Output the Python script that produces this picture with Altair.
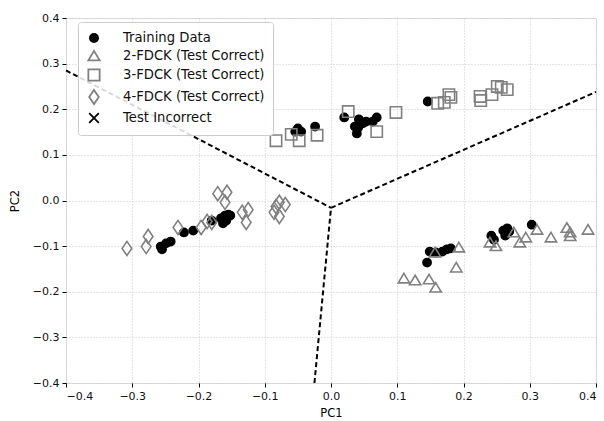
import altair as alt
import pandas as pd

# ---- data ----
train_x = [-0.257, -0.255, -0.249, -0.242, -0.222, -0.208, -0.180, -0.166, -0.160, -0.155, -0.163, -0.152, -0.158,
           -0.054, -0.050, -0.045, -0.024, 0.020, 0.036, 0.039, 0.041, 0.048, 0.053, 0.063, 0.069, 0.042, 0.146,
           0.145, 0.149, 0.158, 0.168, 0.175, 0.181, 0.242, 0.246, 0.260, 0.266, 0.269, 0.263, 0.303]
train_y = [-0.101, -0.107, -0.094, -0.090, -0.070, -0.066, -0.044, -0.039, -0.033, -0.031, -0.050, -0.033, -0.044,
           0.151, 0.158, 0.151, 0.162, 0.182, 0.162, 0.147, 0.160, 0.169, 0.173, 0.173, 0.182, 0.178, 0.217,
           -0.136, -0.112, -0.114, -0.112, -0.107, -0.105, -0.077, -0.086, -0.066, -0.061, -0.068, -0.077, -0.053]

fdck2_x = [0.110, 0.127, 0.148, 0.158, 0.157, 0.193, 0.189, 0.240, 0.249, 0.276, 0.285, 0.294, 0.311, 0.332,
           0.356, 0.361, 0.361, 0.388]
fdck2_y = [-0.171, -0.175, -0.173, -0.191, -0.114, -0.103, -0.147, -0.092, -0.100, -0.070, -0.092, -0.081,
           -0.064, -0.081, -0.060, -0.070, -0.078, -0.064]

fdck3_x = [-0.083, -0.060, -0.048, -0.021, 0.026, 0.069, 0.098, 0.161, 0.171, 0.178, 0.181, 0.225, 0.226,
           0.243, 0.251, 0.257, 0.266]
fdck3_y = [0.131, 0.145, 0.131, 0.143, 0.195, 0.151, 0.193, 0.213, 0.215, 0.232, 0.226, 0.228, 0.219,
           0.232, 0.250, 0.248, 0.243]

fdck4_x = [-0.308, -0.279, -0.276, -0.231, -0.196, -0.187, -0.180, -0.171, -0.157, -0.160, -0.134, -0.128,
           -0.125, -0.086, -0.078, -0.078, -0.069, -0.083]
fdck4_y = [-0.105, -0.101, -0.079, -0.059, -0.059, -0.046, -0.048, 0.015, 0.018, -0.004, -0.026, -0.048,
           -0.020, -0.026, -0.004, -0.035, -0.009, -0.013]

# decision boundary segments (from centre outwards)
bound_seg = ["a", "a", "b", "b", "c", "c"]
bound_x = [0.0, -0.4, 0.0, 0.4, 0.0, -0.025]
bound_y = [-0.016, 0.285, -0.016, 0.238, -0.016, -0.4]

series_names = ["Training Data", "2-FDCK (Test Correct)", "3-FDCK (Test Correct)",
                "4-FDCK (Test Correct)", "Test Incorrect"]
ticks = [-0.4, -0.3, -0.2, -0.1, 0.0, 0.1, 0.2, 0.3, 0.4]

# ---- build tables ----
rows = []
for xs, ys, name in [(train_x, train_y, series_names[0]), (fdck2_x, fdck2_y, series_names[1]),
                     (fdck3_x, fdck3_y, series_names[2]), (fdck4_x, fdck4_y, series_names[3])]:
    for a, b in zip(xs, ys):
        rows.append({"PC1": a, "PC2": b, "series": name})
pts = pd.DataFrame(rows)
lines = pd.DataFrame({"PC1": bound_x, "PC2": bound_y, "seg": bound_seg})

xscale = alt.Scale(domain=[-0.4, 0.4], nice=False, zero=False)
yscale = alt.Scale(domain=[-0.4, 0.4], nice=False, zero=False)

xaxis = alt.Axis(values=ticks, format=".1f", title="PC1", grid=True, gridDash=[1, 2],
                 gridColor="#c8c8c8", domain=False, tickColor="#000", tickSize=4,
                 labelFontSize=11, labelColor="#111", titleFontSize=11.5, titleFontWeight="normal",
                 titlePadding=6, labelPadding=3)
yaxis = alt.Axis(values=ticks, format=".1f", title="PC2", grid=True, gridDash=[1, 2],
                 gridColor="#c8c8c8", domain=False, tickColor="#000", tickSize=4,
                 labelFontSize=11, labelColor="#111", titleFontSize=11.5, titleFontWeight="normal",
                 titlePadding=12, labelPadding=3)

# marker outlines in a -1..1 box (box = sqrt(200) ~ 14 px)
circle_path = "M-0.58,0A0.58,0.58 0 1,0 0.58,0A0.58,0.58 0 1,0 -0.58,0Z"
tri_path = "M0,-0.72L0.8,0.62L-0.8,0.62Z"
square_path = "M-0.8,-0.8L0.8,-0.8L0.8,0.8L-0.8,0.8Z"
diamond_path = "M0,-1L0.68,0L0,1L-0.68,0Z"
x_path = "M-0.68,-0.68L0.68,0.68M-0.68,0.68L0.68,-0.68"

line_layer = alt.Chart(lines).mark_line(color="black", strokeDash=[5, 3], strokeWidth=2).encode(
    x=alt.X("PC1:Q", scale=xscale, axis=xaxis),
    y=alt.Y("PC2:Q", scale=yscale, axis=yaxis),
    detail="seg:N",
)

legend = alt.Legend(title=None, orient="none", legendX=12, legendY=4,
                    fillColor="rgba(255,255,255,0.85)",
                    strokeColor="#cccccc", cornerRadius=3, padding=8, labelFontSize=13.2,
                    labelColor="#111", rowPadding=1, symbolSize=200, labelOffset=21,
                    symbolStrokeWidth=1.8)

pt_layer = alt.Chart(pts).mark_point(size=200, strokeWidth=1.6, opacity=1).encode(
    x=alt.X("PC1:Q", scale=xscale, axis=xaxis),
    y=alt.Y("PC2:Q", scale=yscale, axis=yaxis),
    shape=alt.Shape("series:N", scale=alt.Scale(domain=series_names,
                    range=[circle_path, tri_path, square_path, diamond_path, x_path]), legend=legend),
    stroke=alt.Stroke("series:N", scale=alt.Scale(domain=series_names,
                      range=["black", "#808080", "#808080", "#808080", "black"]), legend=legend),
    fill=alt.Fill("series:N", scale=alt.Scale(domain=series_names,
                  range=["black", "transparent", "transparent", "transparent", "transparent"]), legend=legend),
    order=alt.Order("ord:Q"),
).transform_calculate(ord="datum.series == 'Training Data' ? 0 : 1")

chart = alt.layer(line_layer, pt_layer).properties(
    width=530, height=365,
    autosize=alt.AutoSizeParams(type="none"),
    padding={"left": 66, "top": 18, "right": 8, "bottom": 38},
).configure_view(stroke="black", strokeWidth=1.2).configure(
    font="DejaVu Sans"
)

chart.save("out.html", embed_options={"renderer": "svg", "actions": False})
